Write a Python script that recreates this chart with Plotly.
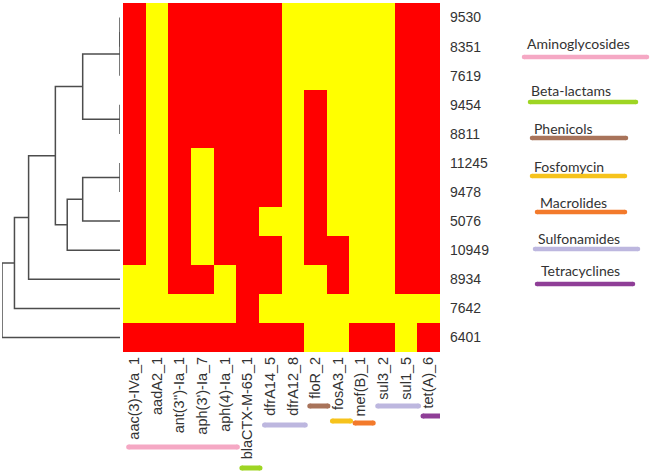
import numpy as np
import plotly.graph_objects as go

# ---------------- data ----------------
genes = ["aac(3)-IVa_1", "aadA2_1", "ant(3'')-Ia_1", "aph(3')-Ia_7", "aph(4)-Ia_1",
         "blaCTX-M-65_1", "dfrA14_5", "dfrA12_8", "floR_2", "fosA3_1", "mef(B)_1",
         "sul3_2", "sul1_5", "tet(A)_6"]
isolates = ["9530", "8351", "7619", "9454", "8811", "11245", "9478", "5076",
            "10949", "8934", "7642", "6401"]
# 1 = red, 0 = yellow
presence = [
    [1, 0, 1, 1, 1, 1, 1, 0, 0, 0, 0, 0, 1, 1],
    [1, 0, 1, 1, 1, 1, 1, 0, 0, 0, 0, 0, 1, 1],
    [1, 0, 1, 1, 1, 1, 1, 0, 0, 0, 0, 0, 1, 1],
    [1, 0, 1, 1, 1, 1, 1, 0, 1, 0, 0, 0, 1, 1],
    [1, 0, 1, 1, 1, 1, 1, 0, 1, 0, 0, 0, 1, 1],
    [1, 0, 1, 0, 1, 1, 1, 0, 1, 0, 0, 0, 1, 1],
    [1, 0, 1, 0, 1, 1, 1, 0, 1, 0, 0, 0, 1, 1],
    [1, 0, 1, 0, 1, 1, 0, 0, 1, 0, 0, 0, 1, 1],
    [1, 0, 1, 0, 1, 1, 1, 0, 1, 1, 0, 0, 1, 1],
    [0, 0, 1, 1, 0, 1, 1, 0, 0, 1, 0, 0, 1, 1],
    [0, 0, 0, 0, 0, 1, 0, 0, 0, 0, 0, 0, 0, 0],
    [1, 1, 1, 1, 1, 1, 1, 1, 0, 0, 1, 1, 0, 1],
]
# clustering tree (scipy-style ids: new cluster = n_leaves + merge index)
merges = [(0, 1), (12, 2), (3, 4), (13, 14), (5, 6), (16, 7), (17, 8),
          (15, 18), (19, 9), (20, 10), (21, 11)]

classes = ["Aminoglycosides", "Beta-lactams", "Phenicols", "Fosfomycin",
           "Macrolides", "Sulfonamides", "Tetracyclines"]
class_colors = ["#f5a8c4", "#9ed523", "#a8735a", "#f6c31c", "#f37a2b",
                "#bdb7df", "#8f3e97"]
# gene groups marked under the column labels: (class, first gene, last gene)
gene_groups = [("Aminoglycosides", 0, 4), ("Beta-lactams", 5, 5),
               ("Sulfonamides", 6, 7), ("Phenicols", 8, 8), ("Fosfomycin", 9, 9),
               ("Macrolides", 10, 10), ("Sulfonamides", 11, 12),
               ("Tetracyclines", 13, 13)]

# ---------------- style / layout ----------------
W, H = 650, 474
HM_LEFT, HM_RIGHT, HM_TOP, HM_BOTTOM = 123, 440, 3, 352
DEN_LEFT, DEN_RIGHT = 2, 120
group_bar_offset_px = [95, 116, 73, 54, 69, 71, 54, 64]
group_bar_pad = (-0.25, 0.55)
legend_text_xy = [(525, 43), (529, 90), (532, 128), (532, 166), (538, 202),
                  (536, 238), (539, 270)]
legend_bar = [(524, 647, 57), (530, 636, 102), (532, 626, 138), (532, 625, 176),
              (537, 625, 212), (535, 638, 249), (537, 633, 284)]
text_color = "#333333"
den_color = "#4d4d4d"

M = np.array(presence, dtype=float)
n = len(isolates)

# complete-linkage heights (Euclidean) for the given tree
members = {i: [i] for i in range(n)}
pos = {i: float(i) for i in range(n)}
height = {i: 0.0 for i in range(n)}
den_x, den_y = [], []
for k, (a, b) in enumerate(merges):
    cid = n + k
    members[cid] = members[a] + members[b]
    h = max(np.sqrt(((M[i] - M[j]) ** 2).sum())
            for i in members[a] for j in members[b])
    height[cid] = h
    pos[cid] = (pos[a] + pos[b]) / 2
    den_x += [height[a], h, h, height[b], None]
    den_y += [pos[a], pos[a], pos[b], pos[b], None]
root_h = height[n + len(merges) - 1]

fig = go.Figure()

fig.add_trace(go.Heatmap(
    z=M, x=list(range(len(genes))), y=list(range(n)),
    colorscale=[[0, "#ffff00"], [0.5, "#ffff00"], [0.5, "#ff0000"], [1, "#ff0000"]],
    zmin=0, zmax=1, showscale=False, xgap=0, ygap=0, hoverinfo="skip",
    xaxis="x", yaxis="y"))

fig.add_trace(go.Scatter(
    x=den_x, y=den_y, mode="lines", line=dict(color=den_color, width=1.5),
    xaxis="x2", yaxis="y", hoverinfo="skip", showlegend=False, cliponaxis=False))

cmap = dict(zip(classes, class_colors))
for (cls, g0, g1), off in zip(gene_groups, group_bar_offset_px):
    fig.add_trace(go.Scatter(
        x=[g0 + group_bar_pad[0], g1 + group_bar_pad[1]], y=[off, off],
        mode="lines+markers", line=dict(color=cmap[cls], width=5),
        marker=dict(color=cmap[cls], size=5), cliponaxis=False,
        xaxis="x", yaxis="y3", hoverinfo="skip", showlegend=False))

for cls, (tx, ty), (bx0, bx1, by) in zip(classes, legend_text_xy, legend_bar):
    fig.add_trace(go.Scatter(
        x=[bx0, bx1], y=[by, by], mode="lines+markers",
        line=dict(color=cmap[cls], width=4.5),
        marker=dict(color=cmap[cls], size=4.5), cliponaxis=False,
        xaxis="x4", yaxis="y4", hoverinfo="skip", showlegend=False))
    fig.add_annotation(x=tx, y=ty, xref="x4", yref="y4", text=cls,
                       showarrow=False, xanchor="left", yanchor="middle",
                       font=dict(family="Lato", size=14, color=text_color))

fig.update_layout(
    width=W, height=H, margin=dict(l=0, r=0, t=0, b=0),
    paper_bgcolor="white", plot_bgcolor="rgba(0,0,0,0)", showlegend=False,
    xaxis=dict(domain=[HM_LEFT / W, HM_RIGHT / W], range=[-0.5, len(genes) - 0.5],
               tickmode="array", tickvals=list(range(len(genes))), ticktext=genes,
               tickangle=-90, ticks="", showgrid=False, zeroline=False,
               showline=False, anchor="y", ticklabelstandoff=1,
               tickfont=dict(family="Liberation Sans", size=14.5, color=text_color)),
    yaxis=dict(domain=[1 - HM_BOTTOM / H, 1 - HM_TOP / H], range=[n - 0.5, -0.5],
               tickmode="array", tickvals=list(range(n)), ticktext=isolates,
               side="right", anchor="x", ticks="", showgrid=False, zeroline=False,
               showline=False, ticklabelstandoff=9,
               tickfont=dict(family="Liberation Sans", size=14, color=text_color)),
    xaxis2=dict(domain=[DEN_LEFT / W, DEN_RIGHT / W], range=[root_h, 0],
                visible=False, anchor="y"),
    yaxis3=dict(domain=[0, 1 - HM_BOTTOM / H], range=[H - HM_BOTTOM, 0],
                visible=False, anchor="x"),
    xaxis4=dict(domain=[0, 1], range=[0, W], visible=False, anchor="y4"),
    yaxis4=dict(domain=[0, 1], range=[H, 0], visible=False, anchor="x4"),
)

fig.write_html("out.html")
